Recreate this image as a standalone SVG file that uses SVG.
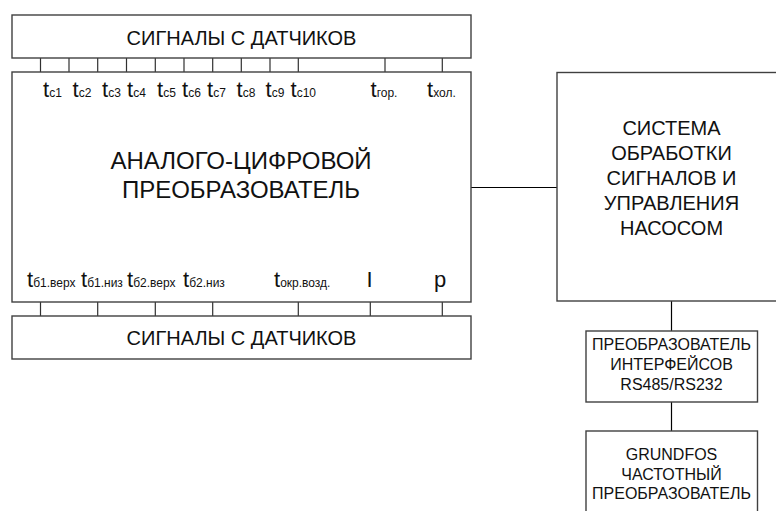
<svg xmlns="http://www.w3.org/2000/svg" width="776" height="511" viewBox="0 0 776 511">
<style>
.box{fill:#fff;stroke:#404040;stroke-width:1.4}
.ln{stroke:#000;stroke-width:1.2;fill:none}
.tk{stroke:#303030;stroke-width:1.2}
text{font-family:"Liberation Sans",Arial,sans-serif;fill:#111}
.big{font-size:20px;text-anchor:middle}
.adc{font-size:24px;text-anchor:middle}
.sm{font-size:16px;text-anchor:middle}
.t{font-size:22px}
.s{font-size:12px}
</style>
<rect width="776" height="511" fill="#fff"/>
<g id="connectors">
<g class="tk">
<line x1="40.5" y1="58" x2="40.5" y2="72"/>
<line x1="69" y1="58" x2="69" y2="72"/>
<line x1="97.7" y1="58" x2="97.7" y2="72"/>
<line x1="126.5" y1="58" x2="126.5" y2="72"/>
<line x1="155.3" y1="58" x2="155.3" y2="72"/>
<line x1="184" y1="58" x2="184" y2="72"/>
<line x1="212.7" y1="58" x2="212.7" y2="72"/>
<line x1="241.3" y1="58" x2="241.3" y2="72"/>
<line x1="270" y1="58" x2="270" y2="72"/>
<line x1="298.3" y1="58" x2="298.3" y2="72"/>
<line x1="385" y1="58" x2="385" y2="72"/>
<line x1="442.3" y1="58" x2="442.3" y2="72"/>
<line x1="40.5" y1="302" x2="40.5" y2="316"/>
<line x1="97.7" y1="302" x2="97.7" y2="316"/>
<line x1="155.3" y1="302" x2="155.3" y2="316"/>
<line x1="212.7" y1="302" x2="212.7" y2="316"/>
<line x1="298.3" y1="302" x2="298.3" y2="316"/>
<line x1="370.3" y1="302" x2="370.3" y2="316"/>
<line x1="442.3" y1="302" x2="442.3" y2="316"/>
</g>
<line class="ln" x1="471" y1="187.5" x2="557" y2="187.5"/>
<line class="ln" x1="671.5" y1="301" x2="671.5" y2="331"/>
<line class="ln" x1="671.5" y1="402" x2="671.5" y2="431"/>
</g>
<g id="top-signals">
<rect class="box" x="12" y="15" width="459" height="43"/>
<text class="big" x="241.5" y="45">СИГНАЛЫ С ДАТЧИКОВ</text>
</g>
<g id="adc">
<rect class="box" x="12" y="72" width="459" height="230"/>
<text class="adc" x="241" y="169">АНАЛОГО-ЦИФРОВОЙ</text>
<text class="adc" x="241" y="198">ПРЕОБРАЗОВАТЕЛЬ</text>
<text class="t" x="43" y="97">t<tspan class="s">с1</tspan></text>
<text class="t" x="72.5" y="97">t<tspan class="s">с2</tspan></text>
<text class="t" x="102" y="97">t<tspan class="s">с3</tspan></text>
<text class="t" x="127" y="97">t<tspan class="s">с4</tspan></text>
<text class="t" x="157" y="97">t<tspan class="s">с5</tspan></text>
<text class="t" x="182" y="97">t<tspan class="s">с6</tspan></text>
<text class="t" x="207" y="97">t<tspan class="s">с7</tspan></text>
<text class="t" x="236.5" y="97">t<tspan class="s">с8</tspan></text>
<text class="t" x="265.5" y="97">t<tspan class="s">с9</tspan></text>
<text class="t" x="290.5" y="97">t<tspan class="s">с10</tspan></text>
<text class="t" x="370.5" y="97">t<tspan class="s">гор.</tspan></text>
<text class="t" x="427" y="97">t<tspan class="s">хол.</tspan></text>
<text class="t" x="27" y="287">t<tspan class="s">б1.верх</tspan></text>
<text class="t" x="81" y="287">t<tspan class="s">б1.низ</tspan></text>
<text class="t" x="127" y="287">t<tspan class="s">б2.верх</tspan></text>
<text class="t" x="183" y="287">t<tspan class="s">б2.низ</tspan></text>
<text class="t" x="274" y="287">t<tspan class="s">окр.возд.</tspan></text>
<text class="t" x="366.5" y="287">I</text>
<text class="t" x="434" y="287">p</text>
</g>
<g id="bottom-signals">
<rect class="box" x="12" y="316" width="459" height="43"/>
<text class="big" x="241.5" y="345">СИГНАЛЫ С ДАТЧИКОВ</text>
</g>
<g id="control-system">
<rect class="box" x="557" y="72.5" width="230" height="228.5"/>
<text class="big" x="671.5" y="135">СИСТЕМА</text>
<text class="big" x="671.5" y="160">ОБРАБОТКИ</text>
<text class="big" x="671.5" y="185">СИГНАЛОВ И</text>
<text class="big" x="671.5" y="210">УПРАВЛЕНИЯ</text>
<text class="big" x="671.5" y="235">НАСОСОМ</text>
</g>
<g id="interface-converter">
<rect class="box" x="586" y="331" width="171.5" height="71"/>
<text class="sm" x="671.5" y="350">ПРЕОБРАЗОВАТЕЛЬ</text>
<text class="sm" x="671.5" y="370">ИНТЕРФЕЙСОВ</text>
<text class="sm" x="671.5" y="390">RS485/RS232</text>
</g>
<g id="grundfos">
<rect class="box" x="586" y="431" width="171.5" height="90"/>
<text class="sm" x="671.5" y="460">GRUNDFOS</text>
<text class="sm" x="671.5" y="479.5">ЧАСТОТНЫЙ</text>
<text class="sm" x="671.5" y="499">ПРЕОБРАЗОВАТЕЛЬ</text>
</g>
</svg>
